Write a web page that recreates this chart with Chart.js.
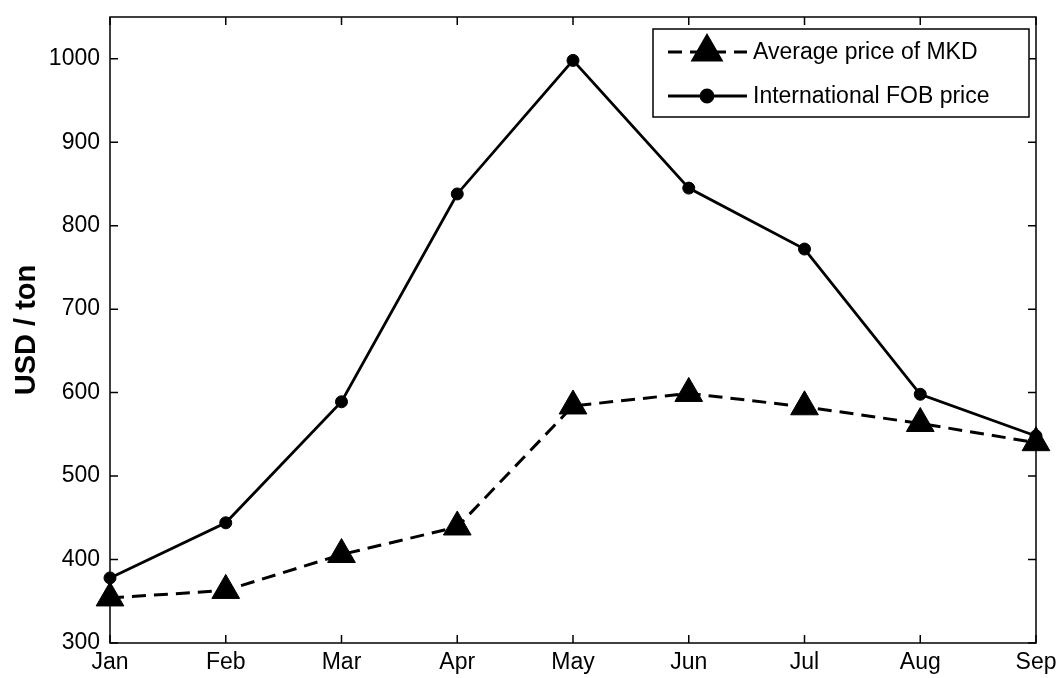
<!DOCTYPE html>
<html>
<head>
<meta charset="utf-8">
<script src="https://cdn.jsdelivr.net/npm/chart.js@4.4.1/dist/chart.umd.min.js"></script>
<style>
  html, body { margin: 0; padding: 0; background: #fff; }
  #wrap { width: 1060px; height: 678px; }
</style>
</head>
<body>
<div id="wrap"><canvas id="c" width="1060" height="678"></canvas></div>
<script>
const months = ['Jan', 'Feb', 'Mar', 'Apr', 'May', 'Jun', 'Jul', 'Aug', 'Sep'];
const mkdPrice = [354, 363, 406, 439, 584, 599, 583, 563, 540];
const fobPrice = [378, 444, 589, 838, 998, 845, 772, 598, 548];
const yTickValues = [300, 400, 500, 600, 700, 800, 900, 1000];
const seriesNames = ['Average price of MKD', 'International FOB price'];
const yTitle = 'USD / ton';

const FONT = '"Liberation Sans", Arial, sans-serif';

const framePlugin = {
  id: 'frame',
  afterDatasetsDraw(chart) {
    const ctx = chart.ctx;
    const a = chart.chartArea;
    const xs = chart.scales.x, ys = chart.scales.y;
    ctx.save();
    ctx.strokeStyle = '#000';
    ctx.lineWidth = 1.5;
    ctx.setLineDash([]);
    ctx.strokeRect(a.left, a.top, a.right - a.left, a.bottom - a.top);
    const tl = 8;
    ctx.beginPath();
    xs.ticks.forEach((t, i) => {
      const px = xs.getPixelForTick(i);
      ctx.moveTo(px, a.bottom); ctx.lineTo(px, a.bottom - tl);
      ctx.moveTo(px, a.top); ctx.lineTo(px, a.top + tl);
    });
    ys.ticks.forEach((t) => {
      const py = ys.getPixelForValue(t.value);
      ctx.moveTo(a.left, py); ctx.lineTo(a.left + tl, py);
      ctx.moveTo(a.right, py); ctx.lineTo(a.right - tl, py);
    });
    ctx.stroke();
    ctx.restore();
  },
  afterDraw(chart) {
    const ctx = chart.ctx;
    const a = chart.chartArea;
    ctx.save();
    ctx.translate(35, (a.top + a.bottom) / 2);
    ctx.rotate(-Math.PI / 2);
    ctx.font = 'bold 29px ' + FONT;
    ctx.fillStyle = '#000';
    ctx.textAlign = 'center';
    ctx.textBaseline = 'alphabetic';
    ctx.fillText(yTitle, 0, 0);
    ctx.restore();

    ctx.save();
    const bx = 653, by = 29, bw = 376, bh = 88;
    ctx.fillStyle = '#fff';
    ctx.fillRect(bx, by, bw, bh);
    ctx.strokeStyle = '#000';
    ctx.lineWidth = 1.5;
    ctx.strokeRect(bx, by, bw, bh);
    const rows = [52, 96];
    chart.data.datasets.forEach((ds, i) => {
      const y = rows[i];
      ctx.strokeStyle = '#000';
      ctx.lineWidth = ds.borderWidth;
      ctx.setLineDash(ds.borderDash || []);
      ctx.beginPath();
      ctx.moveTo(668, y); ctx.lineTo(747, y);
      ctx.stroke();
      ctx.setLineDash([]);
      Chart.helpers.drawPoint(ctx, {
        pointStyle: ds.pointStyle, radius: ds.pointRadius, borderWidth: 1, rotation: 0
      }, 707, y);
      ctx.fillStyle = '#000';
      ctx.fill();
      ctx.font = '23px ' + FONT;
      ctx.textAlign = 'left';
      ctx.textBaseline = 'middle';
      ctx.fillStyle = '#000';
      ctx.fillText(ds.label, 753, y + 1);
    });
    ctx.restore();
  }
};

new Chart(document.getElementById('c'), {
  type: 'line',
  data: {
    labels: months,
    datasets: [
      {
        label: seriesNames[0],
        data: mkdPrice,
        borderColor: '#000',
        backgroundColor: '#000',
        borderWidth: 3,
        borderDash: [14, 8],
        pointStyle: 'triangle',
        pointRadius: 16,
        pointBackgroundColor: '#000',
        pointBorderColor: '#000',
        pointBorderWidth: 1,
        tension: 0,
        fill: false
      },
      {
        label: seriesNames[1],
        data: fobPrice,
        borderColor: '#000',
        backgroundColor: '#000',
        borderWidth: 2.8,
        pointStyle: 'circle',
        pointRadius: 6,
        pointBackgroundColor: '#000',
        pointBorderColor: '#000',
        pointBorderWidth: 1,
        tension: 0,
        fill: false
      }
    ]
  },
  options: {
    responsive: false,
    animation: false,
    devicePixelRatio: 1,
    layout: { padding: { top: 15, right: 24, left: 0, bottom: 0 } },
    plugins: { legend: { display: false }, tooltip: { enabled: false } },
    scales: {
      x: {
        type: 'category',
        offset: false,
        grid: { display: false, drawTicks: false },
        border: { display: false },
        ticks: { color: '#000', font: { family: FONT, size: 23 }, padding: 6, maxRotation: 0, autoSkip: false },
        afterFit(s) { s.height = 35; s.paddingLeft = 0; s.paddingRight = 0; }
      },
      y: {
        min: 300,
        max: 1050,
        grid: { display: false, drawTicks: false },
        border: { display: false },
        afterBuildTicks(s) { s.ticks = yTickValues.map(v => ({ value: v })); },
        ticks: {
          color: '#000', font: { family: FONT, size: 23 }, padding: 10,
          callback: (v) => String(v)
        },
        afterFit(s) { s.width = 110; s.paddingTop = 0; s.paddingBottom = 0; }
      }
    }
  },
  plugins: [framePlugin]
});
</script>
</body>
</html>
